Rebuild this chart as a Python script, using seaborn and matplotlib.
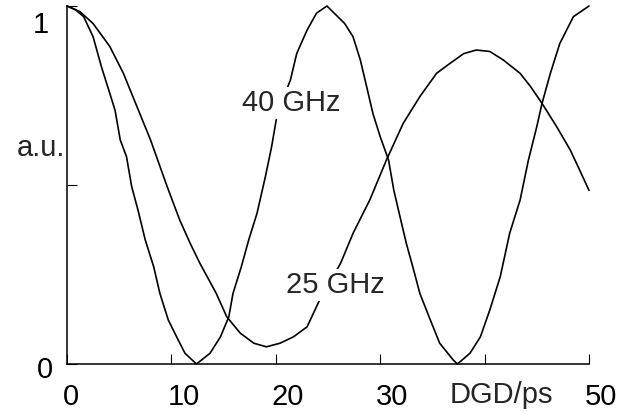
import numpy as np
import pandas as pd
import matplotlib
matplotlib.use("Agg")
import matplotlib.pyplot as plt
import matplotlib.transforms as mtransforms
import seaborn as sns

# ---- data ----
dgd_40 = [0, 0.8, 1.6, 2.5, 3.3, 4.1, 4.6, 5.1, 5.7, 6.2, 6.8, 7.5, 8.3, 8.9, 9.7,
          10.5, 11.3, 12.4, 13.7, 14.7, 15.5, 15.9, 16.7, 17.4, 18.2, 19.0, 19.6,
          20.2, 20.8, 21.4, 22.0, 23.0, 23.9, 24.9, 26.6, 27.4, 28.1, 28.7, 29.3,
          30.0, 30.8, 31.3, 31.9, 32.5, 33.2, 33.8, 34.8, 35.7, 37.0, 37.4, 38.6,
          39.6, 40.5, 41.5, 42.4, 43.4, 44.2, 45.0, 45.5, 46.3, 47.2, 48.5, 50.0]
val_40 = [1.0, 0.99, 0.97, 0.914, 0.83, 0.756, 0.709, 0.626, 0.579, 0.495, 0.43,
          0.346, 0.272, 0.197, 0.123, 0.076, 0.03, 0.0, 0.03, 0.076, 0.132, 0.197,
          0.272, 0.346, 0.421, 0.523, 0.607, 0.709, 0.75, 0.793, 0.867, 0.933, 0.98,
          1.0, 0.951, 0.914, 0.849, 0.775, 0.70, 0.635, 0.57, 0.486, 0.411, 0.337,
          0.263, 0.197, 0.123, 0.058, 0.011, 0.0, 0.03, 0.076, 0.151, 0.244, 0.365,
          0.458, 0.57, 0.663, 0.728, 0.812, 0.895, 0.97, 1.0]

dgd_25 = [0, 1.25, 2.5, 4.1, 5.4, 6.7, 8.0, 9.6, 10.8, 11.8, 12.7, 14.3, 15.3, 16.6,
          17.9, 19.1, 20.4, 21.7, 23.0, 24.2, 25.2, 26.2, 27.4, 29.0, 30.6, 32.2,
          33.8, 35.4, 36.7, 38.0, 39.2, 40.5, 41.8, 43.4, 44.4, 45.5, 46.9, 48.2,
          49.1, 50.0]
val_25 = [1.0, 0.984, 0.951, 0.887, 0.812, 0.719, 0.626, 0.495, 0.402, 0.337, 0.283,
          0.197, 0.132, 0.086, 0.058, 0.048, 0.058, 0.076, 0.104, 0.179, 0.23, 0.281,
          0.365, 0.458, 0.57, 0.672, 0.747, 0.812, 0.84, 0.867, 0.877, 0.873, 0.849,
          0.812, 0.775, 0.728, 0.663, 0.598, 0.542, 0.485]

x_ticks = [0, 10, 20, 30, 40, 50]
x_ticklabels = ["0", "10", "20", "30", "", "50"]
y_ticks = [0, 0.5, 1]
y_ticklabels = ["0", "", "1"]
series_labels = ["40 GHz", "25 GHz"]

df = pd.concat([
    pd.DataFrame({"DGD": dgd_40, "value": val_40, "series": series_labels[0]}),
    pd.DataFrame({"DGD": dgd_25, "value": val_25, "series": series_labels[1]}),
])

sns.set_style("ticks")
plt.rcParams["font.family"] = ["Liberation Sans", "DejaVu Sans"]
FS = 21

fig = plt.figure(figsize=(6.17, 4.12), dpi=100)
ax = fig.add_axes([67 / 617, 48 / 412, 522 / 617, 358 / 412])

sns.lineplot(data=df, x="DGD", y="value", hue="series", estimator=None,
             palette={series_labels[0]: "black", series_labels[1]: "black"},
             linewidth=1.2, legend=False, ax=ax)
for ln in ax.lines:
    ln.set_clip_on(False)

ax.set_xlim(0, 50)
ax.set_ylim(0, 1)
sns.despine(ax=ax)
for s in ["left", "bottom"]:
    ax.spines[s].set_linewidth(1.1)
    ax.spines[s].set_color("black")

ax.set_xticks(x_ticks)
ax.set_xticklabels(x_ticklabels)
ax.set_yticks(y_ticks)
ax.set_yticklabels(y_ticklabels)
ax.tick_params(axis="both", direction="in", length=7, width=0.8, colors="black",
               labelsize=FS)
ax.tick_params(axis="x", pad=14)
ax.tick_params(axis="y", pad=10)

dx = mtransforms.ScaledTranslation(-4 / 100, 0, fig.dpi_scale_trans)
for lab in ax.get_xticklabels():
    lab.set_horizontalalignment("left")
    lab.set_transform(lab.get_transform() + dx)

ylabs = ax.get_yticklabels()
ylabs[0].set_transform(ylabs[0].get_transform() +
                       mtransforms.ScaledTranslation(0, -3 / 100, fig.dpi_scale_trans))
ylabs[2].set_transform(ylabs[2].get_transform() +
                       mtransforms.ScaledTranslation(-4 / 100, -16 / 100, fig.dpi_scale_trans))

ax.set_xlabel("DGD/ps", fontsize=FS)
ax.xaxis.set_label_coords(41.6 / 50, -31 / 358)
ax.xaxis.label.set_verticalalignment("center")
ax.set_ylabel("")

trans = mtransforms.blended_transform_factory(ax.transAxes, ax.transData)
ax.text(-0.004, 0.603, "a.u.", transform=trans, ha="right", va="center", fontsize=FS)

bbox = dict(facecolor="white", edgecolor="none", pad=1.5)
ax.text(21.5, 0.73, series_labels[0], ha="center", va="center", fontsize=FS, bbox=bbox)
ax.text(25.7, 0.22, series_labels[1], ha="center", va="center", fontsize=FS, bbox=bbox)

fig.savefig("out.png", dpi=100)
